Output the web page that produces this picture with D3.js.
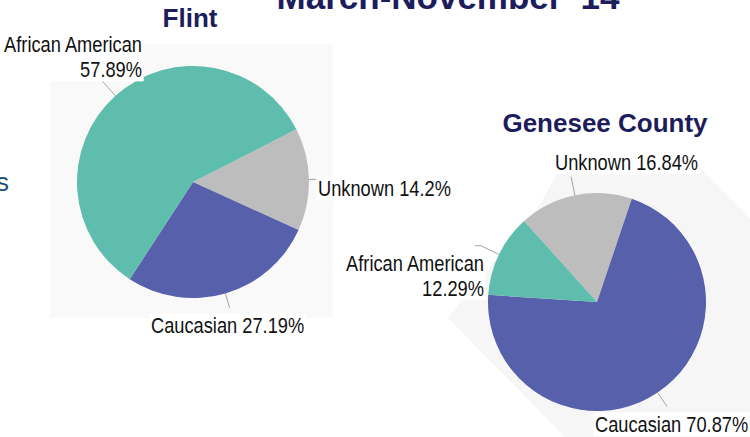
<!DOCTYPE html>
<html lang="en">
  <head>
    <meta charset="utf-8">
    <title>Flint and Genesee County by race</title>
    <script src="https://d3js.org/d3.v7.min.js"></script>
    <style>
      body { margin: 0; background: #fff; }
      .lbl { font-family: "Liberation Sans", Arial, sans-serif; font-size: 22px; fill: #111; }
      .ttl { font-family: "Liberation Sans", Arial, sans-serif; font-weight: bold; fill: #1d1d5c; }
    </style>
  </head>
  <body>
    <script>
      // data
      var categories = ["Unknown", "Caucasian", "African American"];
      var flintValues = [14.2, 27.19, 57.89];
      var geneseeValues = [16.84, 70.87, 12.29];
      var colors = ["#bdbdbd", "#5660ab", "#5fbdad"];

      var w = 750, h = 437;
      var narrow = 0.83; // labels in the slide use a condensed face

      var svg = d3.select("body").append("svg")
                  .attr("width", w)
                  .attr("height", h);

      // faint backdrop shapes from the slide
      svg.append("rect")
         .attr("x", 50).attr("y", 44).attr("width", 283).attr("height", 274)
         .attr("fill", "#f9f9f9");
      svg.append("polygon")
         .attr("points", "448,318 540,205 560,168 700,168 750,218 750,437 565,437")
         .attr("fill", "#f6f6f6");

      // cut-off slide title and side text
      svg.append("text").attr("class", "ttl")
         .attr("x", 448).attr("y", 9)
         .attr("text-anchor", "middle")
         .style("font-size", "35px")
         .text("March-November '14");
      svg.append("text")
         .attr("x", 9).attr("y", 191)
         .attr("text-anchor", "end")
         .style("font-family", "Liberation Sans, Arial, sans-serif")
         .style("font-size", "26px")
         .attr("fill", "#1f4e6e")
         .text("s");

      function drawPie(opt) {
        var g = svg.append("g")
                   .attr("transform", "translate(" + opt.cx + "," + opt.cy + ")");
        var start = opt.start * Math.PI / 180;
        var pie = d3.pie().sort(null)
                    .startAngle(start)
                    .endAngle(start + 2 * Math.PI);
        var arc = d3.arc().innerRadius(0).outerRadius(opt.r);
        var arcs = pie(opt.values);

        g.selectAll("path")
         .data(arcs)
         .enter()
         .append("path")
           .attr("d", arc)
           .attr("fill", function(d, i){ return colors[i]; });

        // leader lines + labels
        arcs.forEach(function(d, i){
          var lay = opt.labels[i];
          var a = (d.startAngle + d.endAngle) / 2;
          var p0 = [Math.sin(a) * opt.r, -Math.cos(a) * opt.r];
          var p1 = [Math.sin(a) * (opt.r + lay.len), -Math.cos(a) * (opt.r + lay.len)];
          var pts = [p0, p1];
          if (lay.hx) pts.push([p1[0] + lay.hx, p1[1]]);

          var lab = svg.append("g")
                       .attr("transform", "translate(" + lay.x + "," + lay.y + ") scale(" + narrow + ",1)");
          var pct = d3.format(".4~r")(opt.values[i]) + "%";
          var lines = lay.split ? [categories[i], pct] : [categories[i] + " " + pct];
          var t = lab.append("text").attr("class", "lbl")
                     .attr("text-anchor", lay.anchor);
          lines.forEach(function(s, k){
            t.append("tspan")
             .attr("x", 0)
             .attr("y", k * 25)
             .text(s);
          });
          var bb = t.node().getBBox();
          lab.insert("rect", "text")
             .attr("x", bb.x - 2).attr("y", bb.y)
             .attr("width", bb.width + 4).attr("height", bb.height)
             .attr("fill", "#fff");

          g.append("polyline")
           .attr("points", pts.map(function(p){ return p.join(","); }).join(" "))
           .attr("fill", "none")
           .attr("stroke", "#a3a3a3")
           .attr("stroke-width", 1);
        });

        svg.append("text").attr("class", "ttl")
           .attr("x", opt.tx).attr("y", opt.ty)
           .attr("text-anchor", "middle")
           .style("font-size", "26px")
           .text(opt.title);
      }

      drawPie({
        title: "Flint", tx: 190, ty: 27,
        cx: 193, cy: 182, r: 116, start: 63,
        values: flintValues,
        labels: [
          {x: 318, y: 196, anchor: "start", len: 7},
          {x: 151, y: 333, anchor: "start", len: 15},
          {x: 142, y: 52, anchor: "end", len: 24, split: true}
        ]
      });

      drawPie({
        title: "Genesee County", tx: 605, ty: 132,
        cx: 597, cy: 302, r: 109, start: 318,
        values: geneseeValues,
        labels: [
          {x: 555, y: 170, anchor: "start", len: 19},
          {x: 595, y: 432, anchor: "start", len: 17},
          {x: 484, y: 271, anchor: "end", len: 20, hx: -6, split: true}
        ]
      });
    </script>
  </body>
</html>
